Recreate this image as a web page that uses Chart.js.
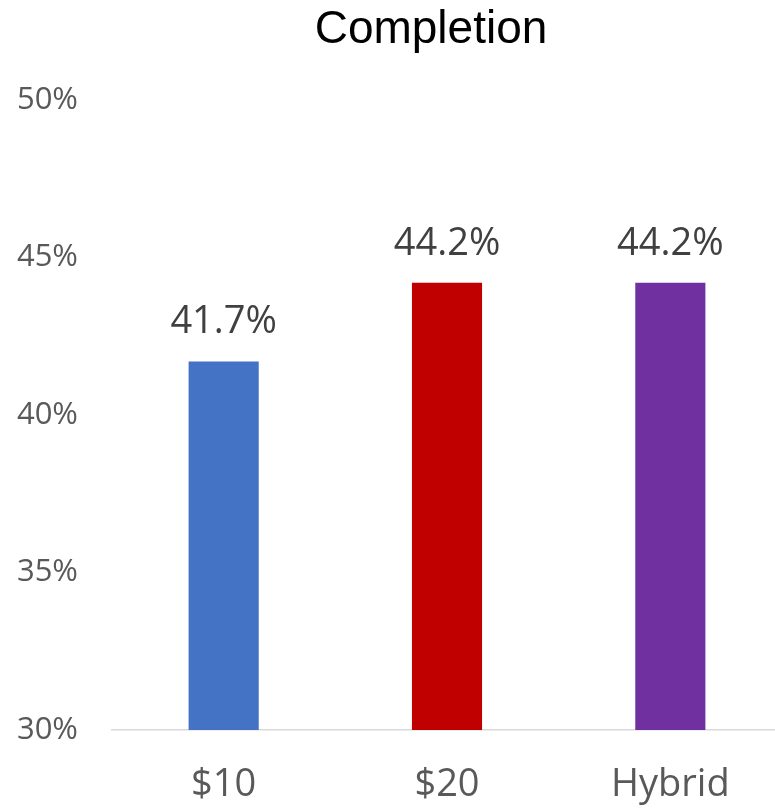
<!DOCTYPE html>
<html>
<head>
<meta charset="utf-8">
<script src="https://cdn.jsdelivr.net/npm/chart.js@4"></script>
<style>
    html, body { margin: 0; padding: 0; background: #fff; overflow: hidden; }
    #wrap { width: 782px; height: 809px; position: relative; }
</style>
</head>
<body>
<div id="wrap"><canvas id="completionChart"></canvas></div>
<script>
// Chart data
const categories = ['$10', '$20', 'Hybrid'];
const completion = [41.7, 44.2, 44.2];
const barColors = ['#4472C4', '#C00000', '#7030A0'];
const yTicks = [30, 35, 40, 45, 50];

const chartTitle = 'Completion';

// Draws the title and the value labels above each bar
const labelPlugin = {
    id: 'labels',
    afterDatasetsDraw(chart) {
        const ctx = chart.ctx;
        ctx.save();
        ctx.fillStyle = '#000';
        ctx.font = "46px 'Liberation Sans', Arial, sans-serif";
        ctx.textAlign = 'center';
        ctx.textBaseline = 'alphabetic';
        ctx.fillText(chartTitle, 431, 43);

        ctx.fillStyle = '#404040';
        ctx.font = "38px 'Open Sans', sans-serif";
        const meta = chart.getDatasetMeta(0);
        meta.data.forEach((bar, i) => {
            ctx.fillText(completion[i].toFixed(1) + '%', bar.x, bar.y - 28);
        });
        ctx.restore();
    }
};

const ctx = document.getElementById('completionChart').getContext('2d');
new Chart(ctx, {
    type: 'bar',
    data: {
        labels: categories,
        datasets: [{
            data: completion,
            backgroundColor: barColors,
            borderWidth: 0,
            barPercentage: 1,
            categoryPercentage: 0.314
        }]
    },
    options: {
        responsive: true,
        maintainAspectRatio: false,
        animation: false,
        layout: { padding: { top: 100, bottom: 0, left: 0, right: 0 } },
        plugins: {
            legend: { display: false },
            tooltip: { enabled: false }
        },
        scales: {
            x: {
                grid: { display: false, drawTicks: false },
                border: { display: true, color: '#D9D9D9', width: 1.5 },
                ticks: {
                    color: '#595959',
                    padding: 32,
                    font: { family: "'Open Sans', sans-serif", size: 38 }
                },
                afterFit(scale) { scale.height = 79; }
            },
            y: {
                min: 30,
                max: 50,
                afterBuildTicks(scale) {
                    scale.ticks = yTicks.map(v => ({ value: v }));
                },
                grid: { display: false, drawTicks: false },
                border: { display: false },
                ticks: {
                    color: '#595959',
                    padding: 34,
                    font: { family: "'Open Sans', sans-serif", size: 31 },
                    callback: v => v + '%'
                },
                afterFit(scale) { scale.width = 112; }
            }
        }
    },
    plugins: [labelPlugin]
});
</script>
</body>
</html>
